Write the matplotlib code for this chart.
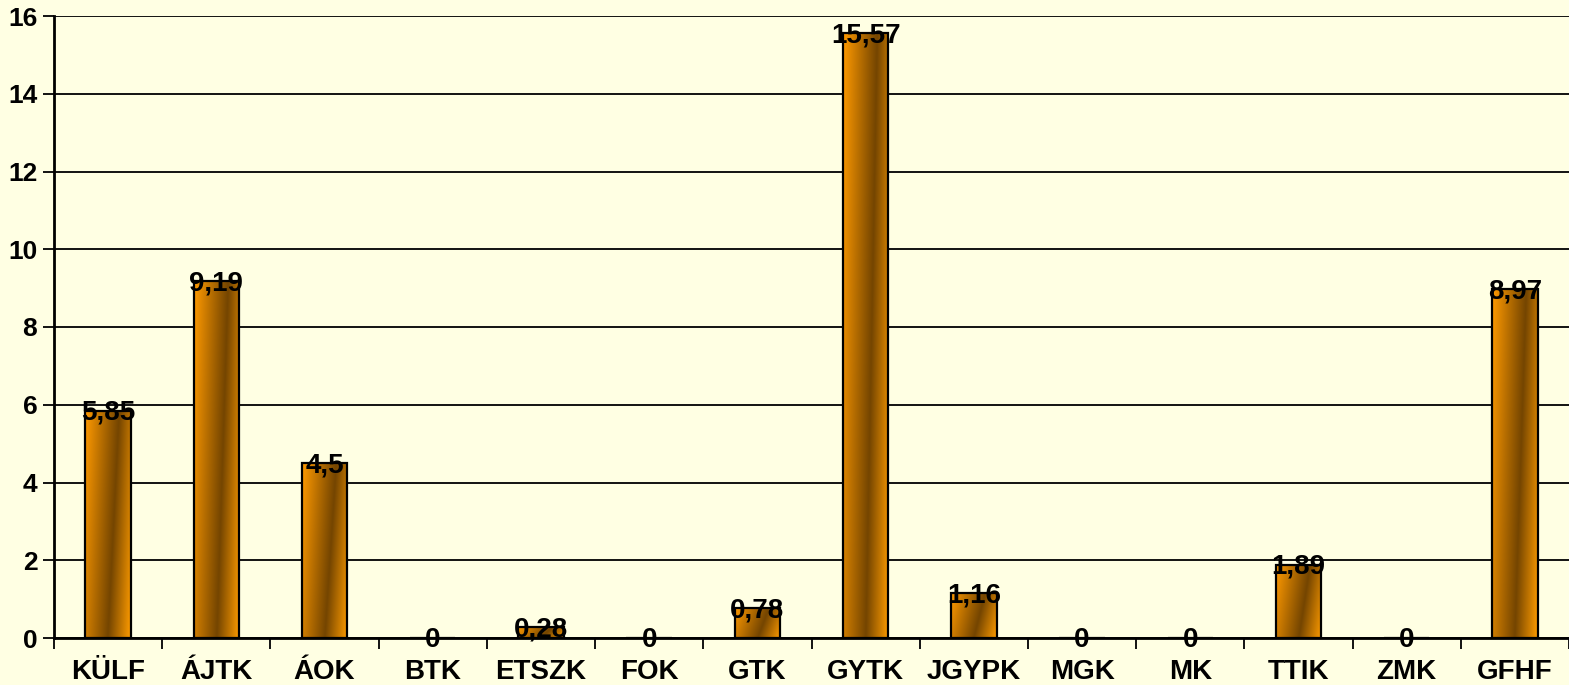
import numpy as np
import matplotlib.pyplot as plt
from matplotlib.colors import LinearSegmentedColormap

categories = ["KÜLF", "ÁJTK", "ÁOK", "BTK", "ETSZK", "FOK", "GTK",
              "GYTK", "JGYPK", "MGK", "MK", "TTIK", "ZMK", "GFHF"]
values = [5.85, 9.19, 4.5, 0, 0.28, 0, 0.78, 15.57, 1.16, 0, 0, 1.89, 0, 8.97]
value_labels = ["5,85", "9,19", "4,5", "0", "0,28", "0", "0,78",
                "15,57", "1,16", "0", "0", "1,89", "0", "8,97"]
yticks = [0, 2, 4, 6, 8, 10, 12, 14, 16]

plt.rcParams['font.family'] = ['Liberation Sans', 'DejaVu Sans']
plt.rcParams['font.weight'] = 'bold'

bg = "#FFFFE3"
fig = plt.figure(figsize=(15.69, 6.85), dpi=100, facecolor=bg)
ax = fig.add_axes([54 / 1569, 1 - 638 / 685, 1 - 54 / 1569, 622 / 685])
ax.set_facecolor(bg)

cmap = LinearSegmentedColormap.from_list(
    "bar", [(0, "#FF9A00"), (0.6, "#744500"), (1, "#FF9C00")])

x = np.arange(len(categories))
width = 0.42
bars = ax.bar(x, values, width=width, facecolor="none", edgecolor="black",
              linewidth=1.6, zorder=3)

# gradient fill inside each bar
u = np.linspace(0, 1, 120)
v = np.linspace(0, 1, 120)
U, V = np.meshgrid(u, v)
grad = np.clip(0.8 * U + 0.2 * (1 - V), 0, 1)
for rect in bars:
    h = rect.get_height()
    if h <= 0:
        continue
    x0 = rect.get_x()
    im = ax.imshow(grad, cmap=cmap, extent=(x0, x0 + width, 0, h),
                   origin="lower", aspect="auto", zorder=2, interpolation="bilinear")
    im.set_clip_path(rect)

for xi, val, lab in zip(x, values, value_labels):
    ax.text(xi, val - 0.06, lab, ha="center", va="center", fontsize=20,
            fontweight="bold", color="black", zorder=5)

ax.set_xlim(-0.5, len(categories) - 0.5)
ax.set_ylim(0, 16)
ax.set_yticks(yticks)
ax.set_yticklabels([str(t) for t in yticks])
ax.yaxis.grid(True, color="black", linewidth=1.3, zorder=0)
ax.set_axisbelow(True)

ax.set_xticks(np.arange(-0.5, len(categories) - 0.4, 1.0))
ax.set_xticklabels([])
ax.set_xticks(x, minor=True)
ax.set_xticklabels(categories, minor=True)
ax.tick_params(axis="x", which="major", length=8, width=1.3, direction="out")
ax.tick_params(axis="x", which="minor", length=0, pad=15, labelsize=20)
ax.tick_params(axis="y", length=8, width=1.3, labelsize=19, pad=4)

for side in ["top", "right"]:
    ax.spines[side].set_visible(False)
for side in ["left", "bottom"]:
    ax.spines[side].set_linewidth(2)

fig.savefig("out.png", dpi=100, facecolor=bg)
